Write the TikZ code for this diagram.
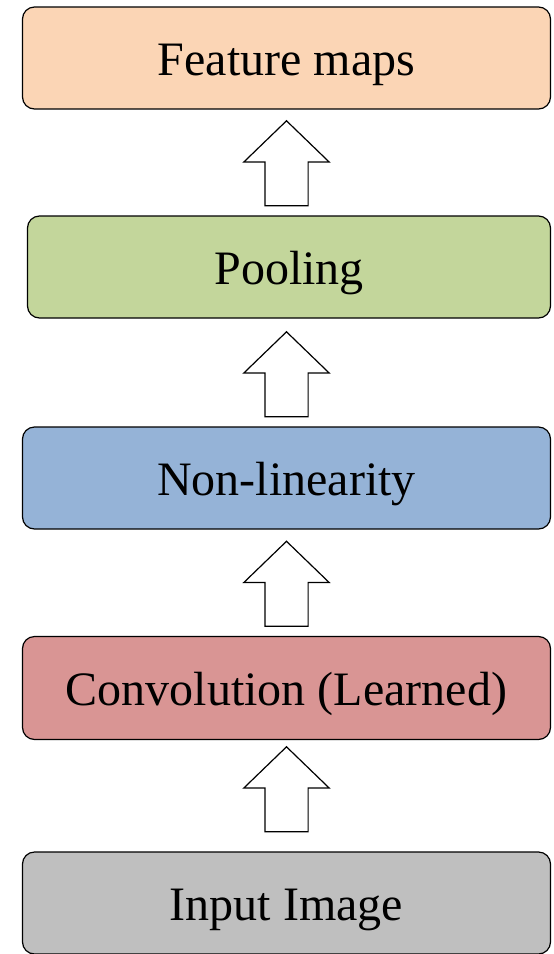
\documentclass[tikz,border=0pt]{standalone}
\usepackage{fontspec}
\setmainfont{Liberation Serif}
\usetikzlibrary{shapes.arrows}

\definecolor{featcol}{HTML}{FBD5B5}
\definecolor{poolcol}{HTML}{C3D69B}
\definecolor{nlincol}{HTML}{95B3D7}
\definecolor{convcol}{HTML}{D99594}
\definecolor{inpcol}{HTML}{BFBFBF}

\begin{document}
\begin{tikzpicture}[x=1pt,y=1pt,
	layer/.style={draw=black, line width=1.2pt, rounded corners=12pt, minimum width=528pt, minimum height=102pt, inner sep=0pt, text height=35pt, text depth=0pt, font=\fontsize{48}{58}\selectfont},
	uparrow/.style={draw=black, fill=white, line width=1.2pt, single arrow, shape border rotate=90, single arrow head extend=21pt, single arrow tip angle=92, minimum height=85pt, inner sep=21pt, anchor=tail}]
\useasboundingbox (0,0) rectangle (554,-954);
	\node[layer, fill=featcol] (feat) at (286.5,-58) {Feature maps};
	\node[layer, fill=poolcol, minimum width=523pt] (pool) at (289,-267) {Pooling};
	\node[layer, fill=nlincol] (nlin) at (286.5,-478) {Non-linearity};
	\node[layer, fill=convcol, minimum height=103pt] (conv) at (286.5,-688) {Convolution (Learned)};
	\node[layer, fill=inpcol] (inp) at (286.5,-903) {Input Image};
	\node[uparrow] (a1) at ([yshift=9pt]feat.south |- pool.north) {};
	\node[uparrow] (a2) at ([yshift=9pt]feat.south |- nlin.north) {};
	\node[uparrow] (a3) at ([yshift=9pt]feat.south |- conv.north) {};
	\node[uparrow] (a4) at ([yshift=19pt]feat.south |- inp.north) {};
\end{tikzpicture}
\end{document}
